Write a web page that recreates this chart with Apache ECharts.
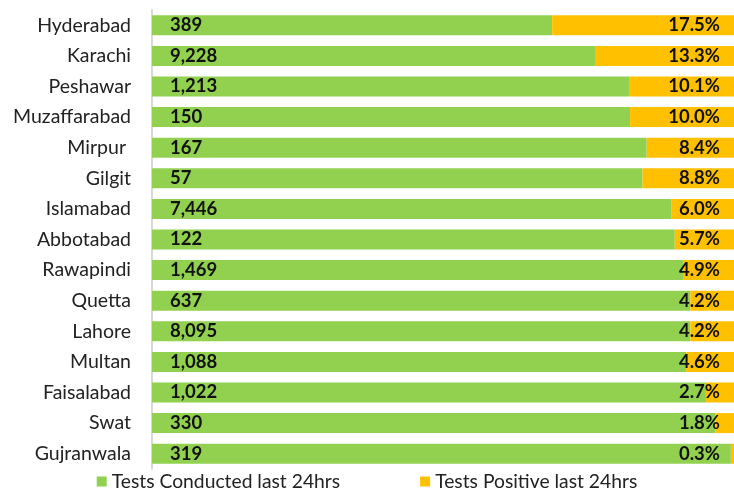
<!DOCTYPE html>
<html>
<head>
<meta charset="utf-8">
<script src="https://cdn.jsdelivr.net/npm/echarts@6/dist/echarts.min.js"></script>
<style>
  html, body { margin: 0; padding: 0; background: #fff; }
  #chart { width: 734px; height: 492px; }
</style>
</head>
<body>
<div id="chart"></div>
<script>
const cities = [
  "Hyderabad", "Karachi", "Peshawar", "Muzaffarabad", "Mirpur ", "Gilgit",
  "Islamabad", "Abbotabad", "Rawapindi", "Quetta", "Lahore", "Multan",
  "Faisalabad", "Swat", "Gujranwala",
];
const testsConducted = [389, 9228, 1213, 150, 167, 57, 7446, 122, 1469, 637, 8095, 1088, 1022, 330, 319];
const positiveRate = [17.5, 13.3, 10.1, 10.0, 8.4, 8.8, 6.0, 5.7, 4.9, 4.2, 4.2, 4.6, 2.7, 1.8, 0.3];
const negativeShare = positiveRate.map((p) => +(100 - p).toFixed(1));

const FONT = "Lato";

const chart = echarts.init(document.getElementById("chart"));

chart.setOption({
  animation: false,
  backgroundColor: "#fff",
  grid: { left: 152, right: 0, top: 10, bottom: 23, containLabel: false },
  legend: {
    top: 467,
    left: "center",
    itemWidth: 10,
    itemHeight: 10,
    itemGap: 80,
    icon: "rect",
    textStyle: { fontFamily: FONT, fontSize: 19.3, color: "#222" },
    data: ["Tests Conducted last 24hrs", "Tests Positive last 24hrs"],
  },
  xAxis: {
    type: "value",
    min: 44,
    max: 100,
    show: false,
  },
  yAxis: {
    type: "category",
    data: cities,
    inverse: true,
    axisLine: { show: true, lineStyle: { color: "#d9d9d9", width: 2 } },
    axisTick: { show: false },
    axisLabel: {
      margin: 21,
      fontFamily: FONT,
      fontSize: 19.5,
      color: "#222",
    },
  },
  series: [
    {
      name: "Tests Conducted last 24hrs",
      type: "bar",
      stack: "share",
      barWidth: 20,
      itemStyle: { color: "#92d050" },
      data: negativeShare,
      label: {
        show: true,
        position: "insideLeft",
        distance: 18,
        fontFamily: FONT,
        fontSize: 18.5,
        fontWeight: "bold",
        color: "#111",
        formatter: (p) => testsConducted[p.dataIndex].toLocaleString("en-US"),
      },
    },
    {
      name: "Tests Positive last 24hrs",
      type: "bar",
      stack: "share",
      barWidth: 20,
      itemStyle: { color: "#ffc000" },
      data: positiveRate,
      label: {
        show: true,
        position: "insideRight",
        distance: 14,
        fontFamily: FONT,
        fontSize: 18.5,
        fontWeight: "bold",
        color: "#111",
        formatter: (p) => p.value.toFixed(1) + "%",
      },
    },
  ],
});
</script>
</body>
</html>
